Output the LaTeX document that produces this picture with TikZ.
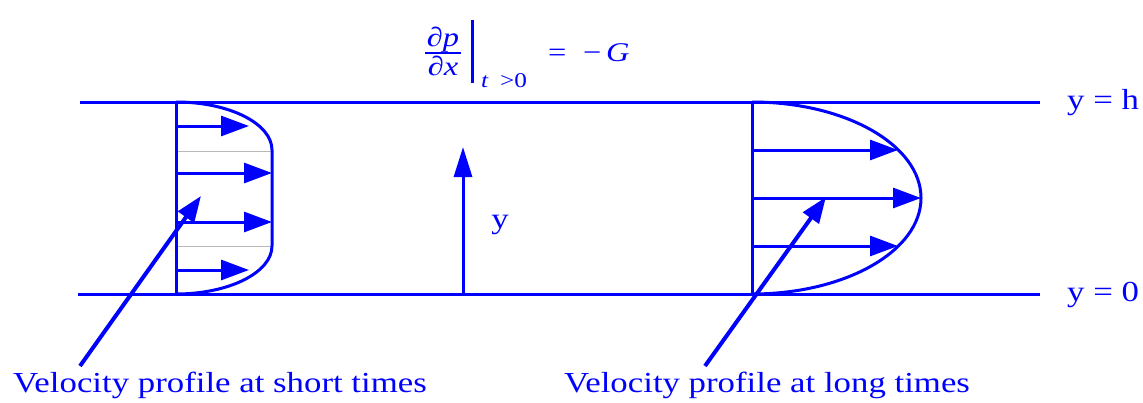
\documentclass[tikz,border=0pt]{standalone}
\usepackage{fontspec}
\setmainfont[FakeStretch=1.2]{Liberation Serif}
\usetikzlibrary{arrows.meta}
\definecolor{pblue}{RGB}{0,0,255}
\begin{document}
\begin{tikzpicture}[x=1pt,y=-1pt,
  wall/.style={draw=pblue, line width=3pt},
  prof/.style={draw=pblue, line width=3pt},
  grid/.style={draw=black!28, line width=1pt},
  vel/.style={draw=pblue, line width=3pt, -{Triangle[length=28pt,width=20pt]}},
  ptr/.style={draw=pblue, line width=4pt, -{Triangle[length=26pt,width=19pt]}},
  lbl/.style={text=pblue, font=\fontsize{29}{34}\selectfont, inner sep=0pt},
  frm/.style={text=pblue, font=\fontsize{27}{32}\selectfont\itshape, inner sep=0pt},
  sub/.style={text=pblue, font=\fontsize{21}{25}\selectfont, inner sep=0pt}]
\useasboundingbox (0,0) rectangle (1143,402);
% walls
\coordinate (tl) at (80,102);
\coordinate (tr) at (1040,102);
\coordinate (bl) at (78,294);
\coordinate (br) at (1040,294);
\draw[wall] (tl) -- (tr);
\draw[wall] (bl) -- (br);
% labels
\node[lbl, anchor=base west] (yh) at (1067,109) {y = h};
\node[lbl, anchor=base west] (y0) at (1067,301) {y = 0};
\node[lbl, anchor=base] (ylab) at (500,228) {y};
\node[lbl, anchor=base] (short) at (220,392) {Velocity profile at short times};
\node[lbl, anchor=base] (long) at (767,392) {Velocity profile at long times};
% formula
\node[frm, anchor=base] (num) at (443,46) {∂p};
\node[frm, anchor=base] (den) at (443,75) {∂x};
\coordinate (fl) at (425,53);
\coordinate (fr) at (461,53);
\draw[draw=pblue, line width=2pt] (fl) -- (fr);
\coordinate (bt) at (472,20);
\coordinate (bb) at (472,83);
\draw[draw=pblue, line width=3pt] (bt) -- (bb);
\node[sub, anchor=base west, font=\fontsize{21}{25}\selectfont\itshape] (subt) at (481,87) {t};
\node[sub, anchor=base west] (subg) at (500,87) {\textgreater0};
\node[frm, anchor=base west, font=\fontsize{27}{32}\selectfont] (eq) at (548,61) {=};
\node[frm, anchor=base west, font=\fontsize{27}{32}\selectfont] (mn) at (583,61) {−};
\node[frm, anchor=base west] (gg) at (606,61) {G};
% left profile
\draw[grid] (176,151) -- (272,151);
\draw[grid] (176,246) -- (272,246);
\draw[prof] (176,102) -- (176,294);
\draw[prof] (176,102) .. controls (229,102) and (272,123.5) .. (272,150)
  -- (272,246) .. controls (272,272.5) and (229,294) .. (176,294);
\draw[vel] (176,126) -- (249,126);
\draw[vel] (176,173) -- (272,173);
\draw[vel] (176,222) -- (272,222);
\draw[vel] (176,270) -- (249,270);
% middle arrow
\coordinate (mb) at (463,294);
\coordinate (mt) at (463,147);
\draw[draw=pblue, line width=3pt, -{Triangle[length=30pt,width=18pt]}] (mb) -- (mt);
% right profile
\draw[prof] (752,102) -- (752,294);
\draw[prof] (752,102) .. controls (845.3,102) and (921,145) .. (921,198)
  .. controls (921,251) and (845.3,294) .. (752,294);
\draw[vel] (752,150) -- (898,150);
\draw[vel] (752,198) -- (921,198);
\draw[vel] (752,246) -- (898,246);
% pointers
\coordinate (st) at (80,366);
\coordinate (sh) at (201,196);
\coordinate (lt) at (705,366);
\coordinate (lh) at (826,197);
\draw[ptr] (st) -- (sh);
\draw[ptr] (lt) -- (lh);
\end{tikzpicture}
\end{document}
